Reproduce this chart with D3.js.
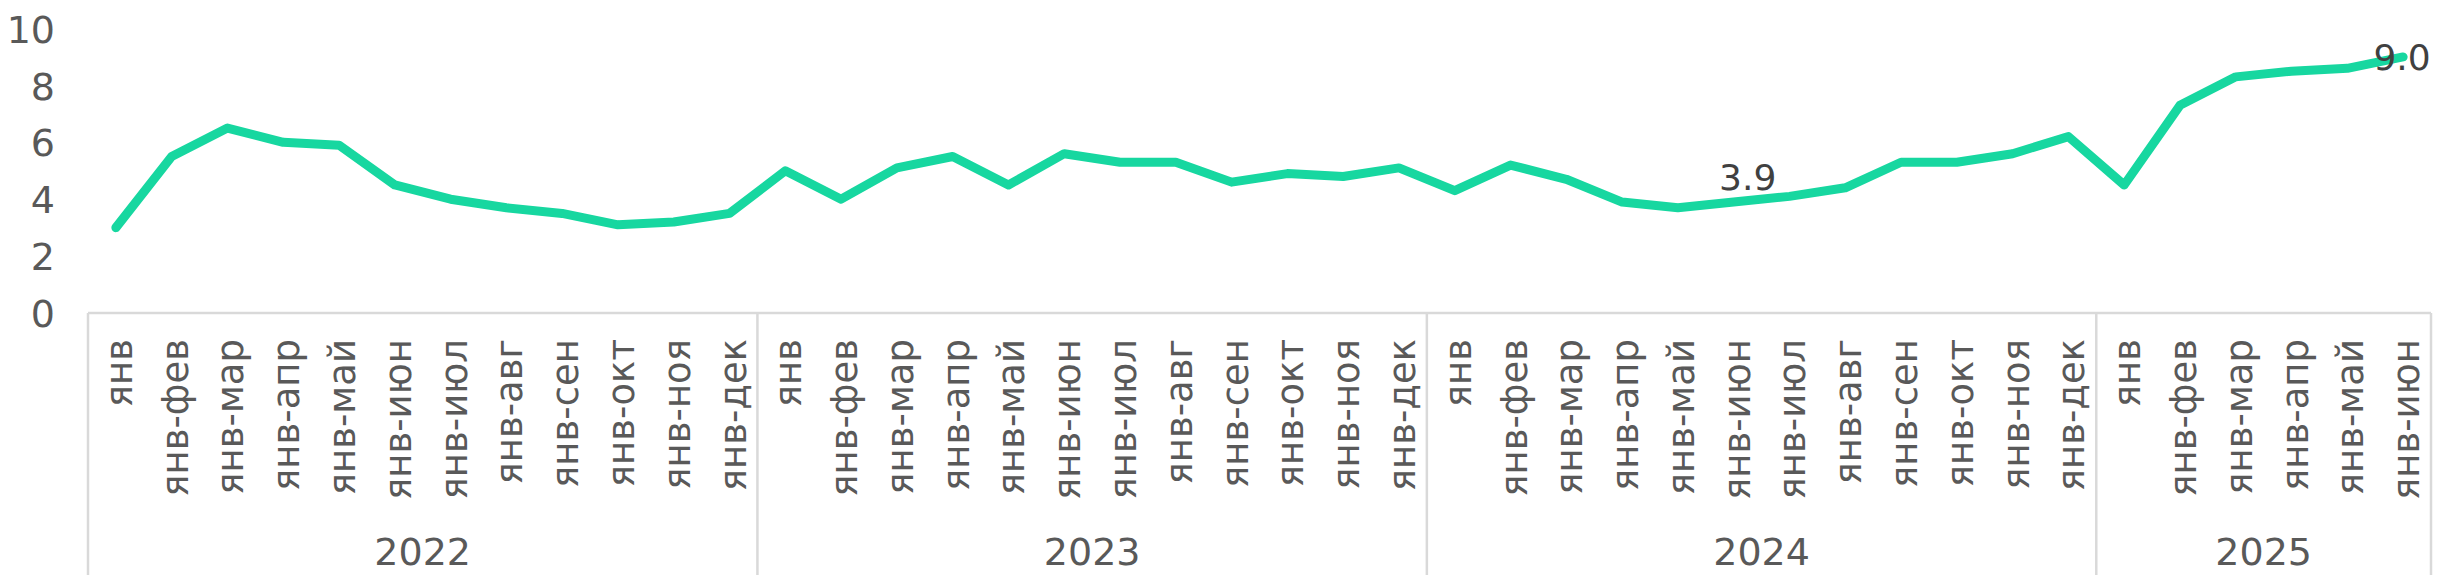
<!DOCTYPE html>
<html>
<head>
<meta charset="utf-8">
<script src="https://cdn.jsdelivr.net/npm/d3@7"></script>
<style>
  html, body { margin: 0; padding: 0; background: #ffffff; }
  svg { display: block; }
</style>
</head>
<body>
<div id="chart"></div>
<script>
const years = ["2022", "2023", "2024", "2025"];
const months = ["янв", "янв-фев", "янв-мар", "янв-апр", "янв-май", "янв-июн",
                "янв-июл", "янв-авг", "янв-сен", "янв-окт", "янв-ноя", "янв-дек"];
const values2022 = [3.0, 5.5, 6.5, 6.0, 5.9, 4.5, 4.0, 3.7, 3.5, 3.1, 3.2, 3.5];
const values2023 = [5.0, 4.0, 5.1, 5.5, 4.5, 5.6, 5.3, 5.3, 4.6, 4.9, 4.8, 5.1];
const values2024 = [4.3, 5.2, 4.7, 3.9, 3.7, 3.9, 4.1, 4.4, 5.3, 5.3, 5.6, 6.2];
const values2025 = [4.5, 7.3, 8.3, 8.5, 8.6, 9.0];
const yTicks = [0, 2, 4, 6, 8, 10];
const labelled = [{ year: "2024", month: "янв-июн", pos: "above" },
                  { year: "2025", month: "янв-июн", pos: "center" }];

const seriesByYear = [values2022, values2023, values2024, values2025];
const data = [];
years.forEach((yr, yi) => {
  seriesByYear[yi].forEach((v, mi) => {
    data.push({ key: yr + "|" + months[mi], year: yr, month: months[mi], value: v });
  });
});

const W = 2443, H = 580;
const left = 88, right = 2431, axisY = 313, topY = 28.5, bottom = 575;
const font = "'DejaVu Sans', Verdana, sans-serif";
const gridColor = "#d9d9d9";
const textColor = "#595959";
const lineColor = "#17d7a0";

const svg = d3.select("#chart").append("svg")
  .attr("width", W).attr("height", H);

const x = d3.scaleBand().domain(data.map(d => d.key)).range([left, right]).padding(0);
const y = d3.scaleLinear().domain([0, 10]).range([axisY, topY]);
const cx = k => x(k) + x.bandwidth() / 2;

// Y axis labels
const yAxis = d3.axisLeft(y).tickValues(yTicks).tickSize(0).tickPadding(33).tickFormat(d3.format("d"));
const gy = svg.append("g").attr("transform", `translate(${left},0)`).call(yAxis);
gy.select(".domain").remove();
gy.selectAll("text")
  .attr("font-family", font).attr("font-size", 38).attr("fill", textColor)
  .attr("dy", "0.36em");

// horizontal axis line
svg.append("line")
  .attr("x1", left).attr("x2", right).attr("y1", axisY).attr("y2", axisY)
  .attr("stroke", gridColor).attr("stroke-width", 2.5);

// group separators
const bounds = years.map(yr => x(yr + "|" + months[0])).concat([right]);
svg.selectAll("line.sep").data(bounds).enter().append("line")
  .attr("class", "sep")
  .attr("x1", d => d).attr("x2", d => d)
  .attr("y1", axisY).attr("y2", bottom)
  .attr("stroke", gridColor).attr("stroke-width", 2.5);

// month labels (rotated)
svg.selectAll("text.month").data(data).enter().append("text")
  .attr("class", "month")
  .attr("transform", d => `translate(${cx(d.key)},339) rotate(-90)`)
  .attr("y", 16)
  .attr("text-anchor", "end")
  .attr("font-family", font).attr("font-size", 37).attr("fill", textColor)
  .text(d => d.month);

// year labels
svg.selectAll("text.year").data(years).enter().append("text")
  .attr("class", "year")
  .attr("x", (yr, i) => (bounds[i] + bounds[i + 1]) / 2)
  .attr("y", 565)
  .attr("text-anchor", "middle")
  .attr("font-family", font).attr("font-size", 38).attr("fill", textColor)
  .text(d => d);

// line
const line = d3.line().x(d => cx(d.key)).y(d => y(d.value));
svg.append("path").datum(data)
  .attr("d", line)
  .attr("fill", "none")
  .attr("stroke", lineColor)
  .attr("stroke-width", 9)
  .attr("stroke-linecap", "round")
  .attr("stroke-linejoin", "round");

// data labels
labelled.forEach(l => {
  const d = data.find(e => e.year === l.year && e.month === l.month);
  const t = svg.append("text")
    .attr("font-family", font).attr("font-size", 36).attr("fill", "#404040")
    .attr("text-anchor", "middle")
    .text(d3.format(".1f")(d.value));
  if (l.pos === "above") {
    t.attr("x", cx(d.key) + 14).attr("y", y(d.value) - 12);
  } else {
    t.attr("x", cx(d.key) - 1).attr("y", y(d.value)).attr("dy", "0.36em");
  }
});
</script>
</body>
</html>
